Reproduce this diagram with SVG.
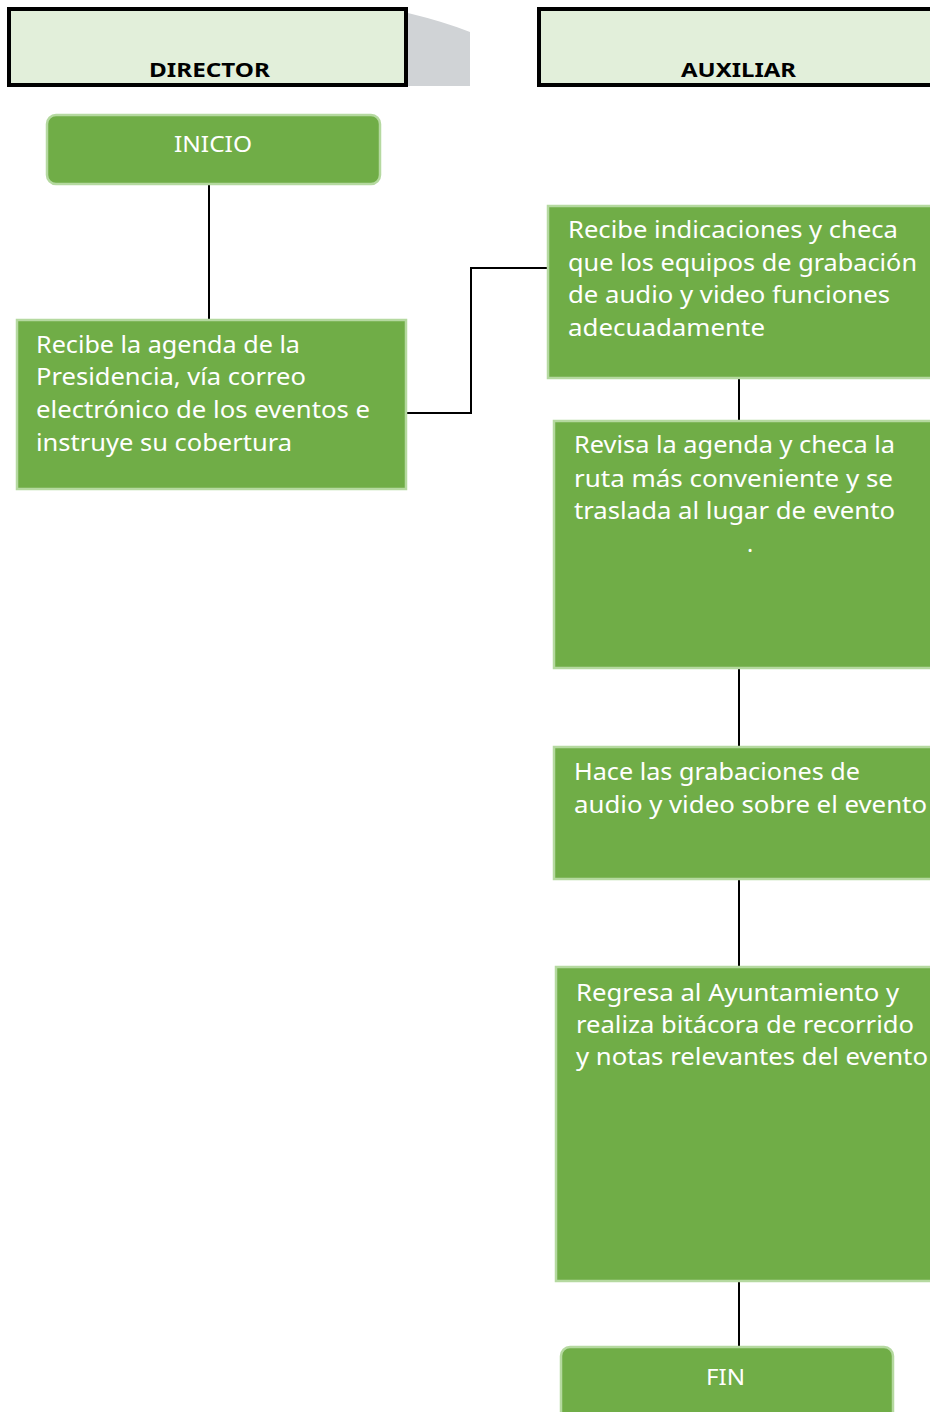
<svg xmlns="http://www.w3.org/2000/svg" width="930" height="1412" viewBox="0 0 930 1412">
<style>
.hdr{fill:#E2EFDA;stroke:#000;stroke-width:4}
.hdrt{font-family:"Noto Sans","Open Sans",sans-serif;font-weight:bold;font-size:20px;fill:#000}
.box{fill:#70AD47;stroke:#B5D9A0;stroke-width:2.5}
.t{font-family:"Noto Sans","Open Sans",sans-serif;font-size:23px;fill:#fff}
.c{fill:none;stroke:#000;stroke-width:2}
</style>
<rect width="930" height="1412" fill="#fff"/>
<g id="connectors">
<line class="c" x1="209" y1="185" x2="209" y2="319"/>
<polyline class="c" points="407,413 471,413 471,268 547,268"/>
<line class="c" x1="739" y1="379" x2="739" y2="420"/>
<line class="c" x1="739" y1="669" x2="739" y2="747"/>
<line class="c" x1="739" y1="879" x2="739" y2="967"/>
<line class="c" x1="739" y1="1282" x2="739" y2="1347"/>
</g>
<g id="lane-director">
<path d="M408,13 Q445,22 470,32 L470,86 L408,86 Z" fill="#D0D3D6"/>
<rect class="hdr" x="9" y="9" width="397" height="76"/>
<text class="hdrt" x="149" y="77" textLength="121" lengthAdjust="spacingAndGlyphs">DIRECTOR</text>
</g>
<g id="lane-auxiliar">
<rect class="hdr" x="539" y="9" width="400" height="76"/>
<text class="hdrt" x="681" y="77" textLength="115" lengthAdjust="spacingAndGlyphs">AUXILIAR</text>
</g>
<g id="inicio">
<rect class="box" x="47" y="115" width="333" height="69" rx="9"/>
<text class="t" x="174" y="152" textLength="78" lengthAdjust="spacingAndGlyphs" style="font-size:22px">INICIO</text>
</g>
<g id="recibe-agenda">
<rect class="box" x="17" y="320" width="389" height="169"/>
<text class="t" x="36" y="353" textLength="264" lengthAdjust="spacingAndGlyphs">Recibe la agenda de la</text>
<text class="t" x="36" y="385" textLength="270" lengthAdjust="spacingAndGlyphs">Presidencia, vía correo</text>
<text class="t" x="36" y="418" textLength="334" lengthAdjust="spacingAndGlyphs">electrónico de los eventos e</text>
<text class="t" x="36" y="451" textLength="256" lengthAdjust="spacingAndGlyphs">instruye su cobertura</text>
</g>
<g id="recibe-indicaciones">
<rect class="box" x="548" y="206" width="392" height="172"/>
<text class="t" x="568" y="238" textLength="330" lengthAdjust="spacingAndGlyphs">Recibe indicaciones y checa</text>
<text class="t" x="568" y="271" textLength="349" lengthAdjust="spacingAndGlyphs">que los equipos de grabación</text>
<text class="t" x="568" y="303" textLength="322" lengthAdjust="spacingAndGlyphs">de audio y video funciones</text>
<text class="t" x="568" y="336" textLength="197" lengthAdjust="spacingAndGlyphs">adecuadamente</text>
</g>
<g id="revisa-agenda">
<rect class="box" x="554" y="421" width="386" height="247"/>
<text class="t" x="574" y="453" textLength="321" lengthAdjust="spacingAndGlyphs">Revisa la agenda y checa la</text>
<text class="t" x="574" y="487" textLength="319" lengthAdjust="spacingAndGlyphs">ruta más conveniente  y se</text>
<text class="t" x="574" y="519" textLength="321" lengthAdjust="spacingAndGlyphs">traslada al lugar de evento</text>
<text class="t" x="747" y="552">.</text>
</g>
<g id="hace-grabaciones">
<rect class="box" x="554" y="747" width="386" height="132"/>
<text class="t" x="574" y="780" textLength="286" lengthAdjust="spacingAndGlyphs">Hace las grabaciones de</text>
<text class="t" x="574" y="813" textLength="353" lengthAdjust="spacingAndGlyphs">audio y video sobre el evento</text>
</g>
<g id="regresa">
<rect class="box" x="556" y="967" width="384" height="314"/>
<text class="t" x="576" y="1001" textLength="323" lengthAdjust="spacingAndGlyphs">Regresa al Ayuntamiento y</text>
<text class="t" x="576" y="1033" textLength="338" lengthAdjust="spacingAndGlyphs">realiza bitácora de recorrido</text>
<text class="t" x="576" y="1065" textLength="352" lengthAdjust="spacingAndGlyphs">y notas relevantes del evento</text>
</g>
<g id="fin">
<rect class="box" x="561" y="1347" width="332" height="80" rx="9"/>
<text class="t" x="706" y="1385" textLength="39" lengthAdjust="spacingAndGlyphs" style="font-size:22px">FIN</text>
</g>
</svg>
